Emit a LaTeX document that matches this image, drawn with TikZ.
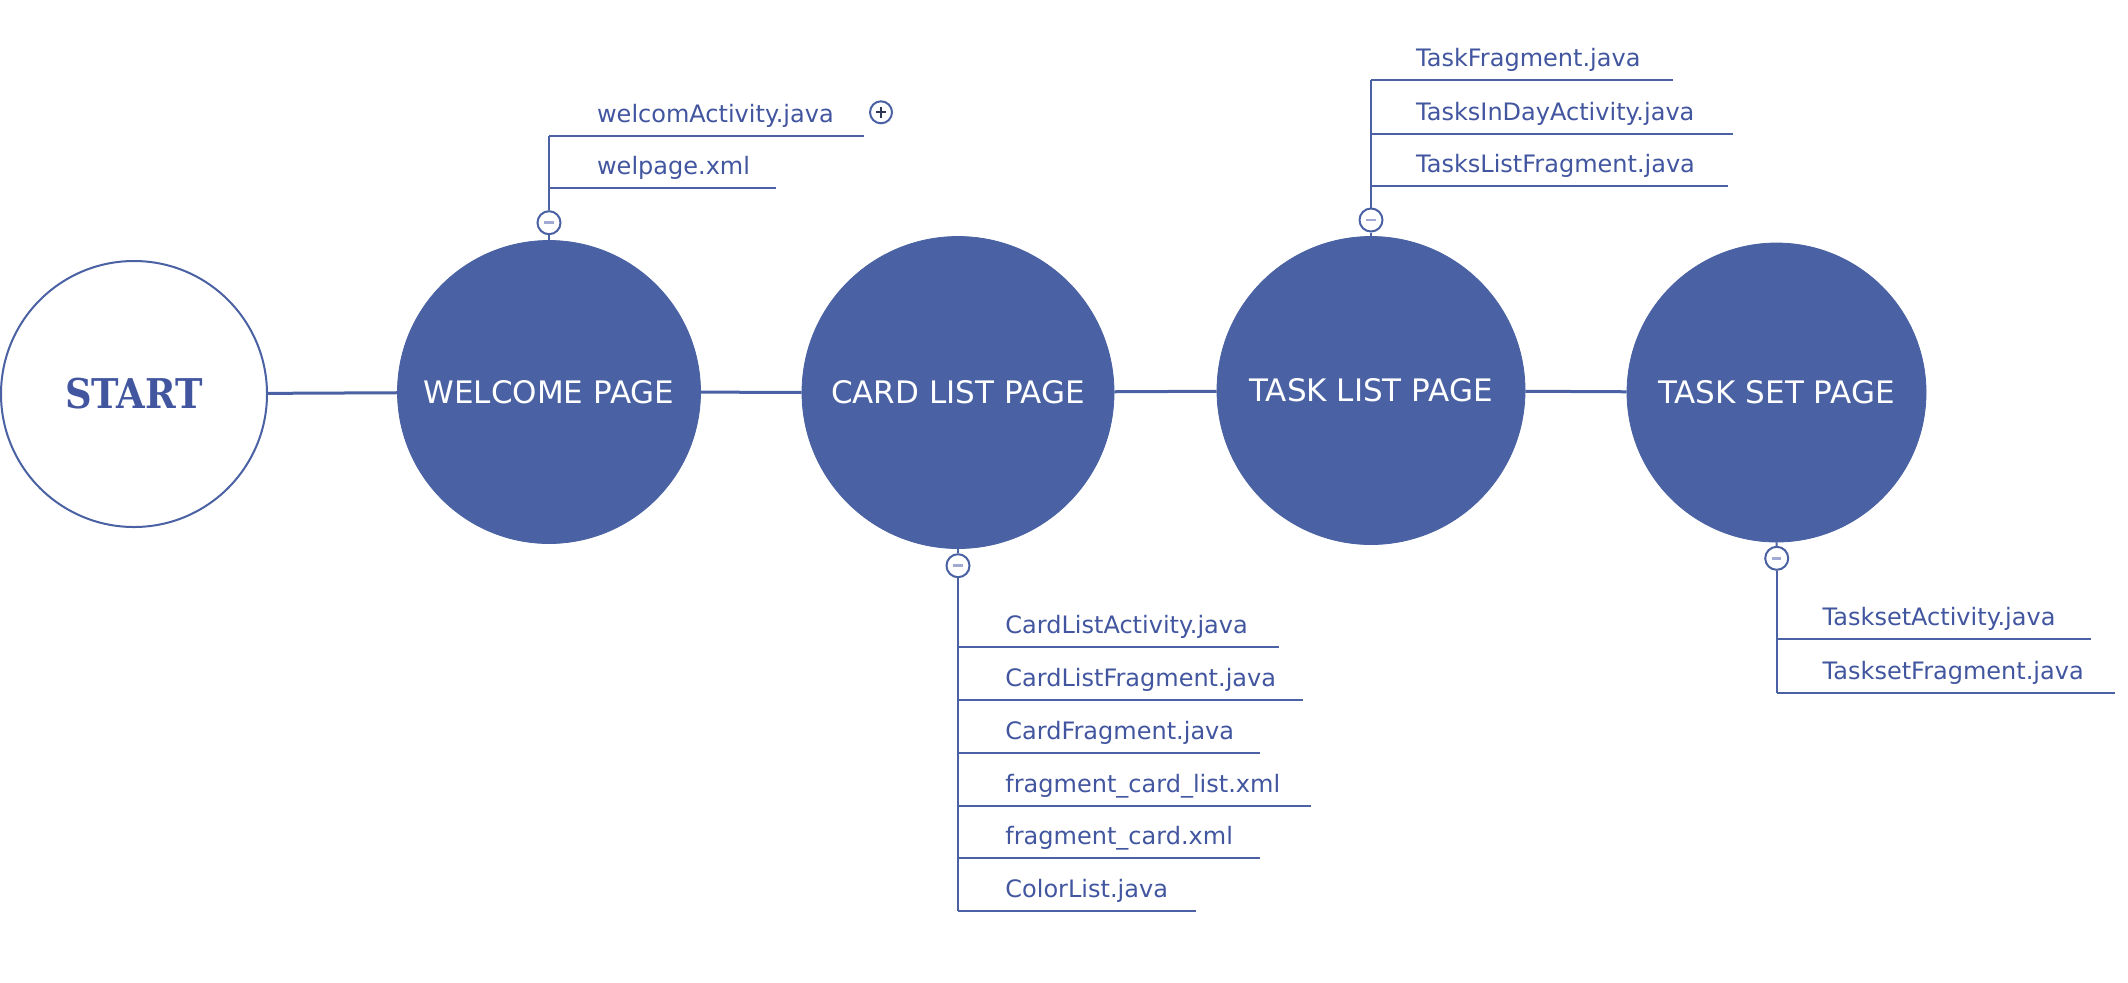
\documentclass[tikz,border=0pt]{standalone}
\usepackage{fontspec}
\setmainfont{DejaVu Sans}
\newfontfamily\startfont{DejaVu Serif Condensed}
\definecolor{pageblue}{RGB}{74,98,163}
\definecolor{textblue}{RGB}{66,86,160}
\definecolor{minusgrey}{RGB}{160,170,210}
\definecolor{plusdark}{RGB}{45,55,85}

\begin{document}
\begin{tikzpicture}[x=0.5pt,y=-0.5pt,
	page/.style={circle,fill=pageblue,draw=pageblue,text=white,inner sep=0pt,font=\fontsize{15.5}{18}\selectfont},
	link/.style={draw=pageblue,line width=1.5pt},
	branch/.style={draw=pageblue,line width=1pt},
	file/.style={anchor=base west,inner sep=0pt,text=textblue,font=\fontsize{12}{14}\selectfont},
	fold/.style={circle,draw=pageblue,line width=1pt,fill=white,minimum size=11.5pt,inner sep=0pt,
		path picture={\draw[minusgrey,line width=1.3pt] ([xshift=-2.3pt]path picture bounding box.center) -- ([xshift=2.3pt]path picture bounding box.center);}},
	unfold/.style={circle,draw=pageblue,line width=1pt,fill=white,minimum size=11pt,inner sep=0pt,
		path picture={\draw[plusdark,line width=1pt] ([xshift=-2.6pt]path picture bounding box.center) -- ([xshift=2.6pt]path picture bounding box.center)
			([yshift=-2.6pt]path picture bounding box.center) -- ([yshift=2.6pt]path picture bounding box.center);}}]
	
	\path[use as bounding box,fill=white] (0,0) rectangle (2128,982);
	
	% pages
	\node[circle,draw=pageblue,line width=1pt,minimum size=133pt,inner sep=0pt,text=textblue,font=\startfont\bfseries\fontsize{20.5}{24}\selectfont] (start) at (134,394) {START};
	
	\node[page,minimum size=151.5pt] (welcome) at (549,392) {WELCOME PAGE};
	
	\node[page,minimum size=156pt] (cardlist) at (958,392.5) {CARD LIST PAGE};
	
	\node[page,minimum size=154pt] (tasklist) at (1371,390.5) {TASK LIST PAGE};
	
	\node[page,minimum size=149.5pt] (taskset) at (1776.5,392.5) {TASK SET PAGE};
	
	\draw[link] (start) -- (welcome);
	\draw[link] (welcome) -- (cardlist);
	\draw[link] (cardlist) -- (tasklist);
	\draw[link] (tasklist) -- (taskset);
	
	% welcome page files
	\node[fold] (wicon) at (549,222.7) {};
	\node[unfold] (wplus) at (881,112.3) {};
	
	\node[file] (wact) at (596.7,122) {welcomActivity.java};
	\coordinate (wact-l) at (549,136);
	\coordinate (wact-r) at (864,136);
	
	\node[file] (wpage) at (596.7,174.3) {welpage.xml};
	\coordinate (wpage-l) at (549,188.3);
	\coordinate (wpage-r) at (775.7,188.3);
	
	\draw[branch] (wicon) -- (welcome);
	\draw[branch] (wicon) -- (wact-l);
	\draw[branch] (wact-l) -- (wact-r);
	\draw[branch] (wpage-l) -- (wpage-r);
	
	% card list page files
	\node[fold] (cicon) at (958,565.7) {};
	
	\node[file] (cla) at (1005,633.8) {CardListActivity.java};
	\coordinate (cla-l) at (958,647.3);
	\coordinate (cla-r) at (1279.3,647.3);
	
	\node[file] (clf) at (1005,686.5) {CardListFragment.java};
	\coordinate (clf-l) at (958,700);
	\coordinate (clf-r) at (1303.3,700);
	
	\node[file] (cfr) at (1005,739.2) {CardFragment.java};
	\coordinate (cfr-l) at (958,752.7);
	\coordinate (cfr-r) at (1260.3,752.7);
	
	\node[file] (fcl) at (1005,792.2) {fragment\_card\_list.xml};
	\coordinate (fcl-l) at (958,805.7);
	\coordinate (fcl-r) at (1310.7,805.7);
	
	\node[file] (fca) at (1005,844.8) {fragment\_card.xml};
	\coordinate (fca-l) at (958,858.3);
	\coordinate (fca-r) at (1260.3,858.3);
	
	\node[file] (col) at (1005,897.5) {ColorList.java};
	\coordinate (col-l) at (958,911);
	\coordinate (col-r) at (1195.7,911);
	
	\draw[branch] (cicon) -- (cardlist);
	\draw[branch] (cicon) -- (col-l);
	\draw[branch] (cla-l) -- (cla-r);
	\draw[branch] (clf-l) -- (clf-r);
	\draw[branch] (cfr-l) -- (cfr-r);
	\draw[branch] (fcl-l) -- (fcl-r);
	\draw[branch] (fca-l) -- (fca-r);
	\draw[branch] (col-l) -- (col-r);
	
	% task list page files
	\node[fold] (ticon) at (1371,220) {};
	
	\node[file] (tfr) at (1415.7,66.8) {TaskFragment.java};
	\coordinate (tfr-l) at (1371,80.3);
	\coordinate (tfr-r) at (1673.3,80.3);
	
	\node[file] (tid) at (1415.7,120.2) {TasksInDayActivity.java};
	\coordinate (tid-l) at (1371,133.7);
	\coordinate (tid-r) at (1733,133.7);
	
	\node[file] (tlf) at (1415.7,172.8) {TasksListFragment.java};
	\coordinate (tlf-l) at (1371,186.3);
	\coordinate (tlf-r) at (1728.3,186.3);
	
	\draw[branch] (ticon) -- (tasklist);
	\draw[branch] (ticon) -- (tfr-l);
	\draw[branch] (tfr-l) -- (tfr-r);
	\draw[branch] (tid-l) -- (tid-r);
	\draw[branch] (tlf-l) -- (tlf-r);
	
	% task set page files
	\node[fold] (sicon) at (1776.7,558.3) {};
	
	\node[file] (tsa) at (1822.3,625.8) {TasksetActivity.java};
	\coordinate (tsa-l) at (1776.7,639.3);
	\coordinate (tsa-r) at (2090.7,639.3);
	
	\node[file] (tsf) at (1822.3,679.2) {TasksetFragment.java};
	\coordinate (tsf-l) at (1776.7,692.7);
	\coordinate (tsf-r) at (2115,692.7);
	
	\draw[branch] (sicon) -- (taskset);
	\draw[branch] (sicon) -- (tsf-l);
	\draw[branch] (tsa-l) -- (tsa-r);
	\draw[branch] (tsf-l) -- (tsf-r);
	
\end{tikzpicture}
\end{document}
